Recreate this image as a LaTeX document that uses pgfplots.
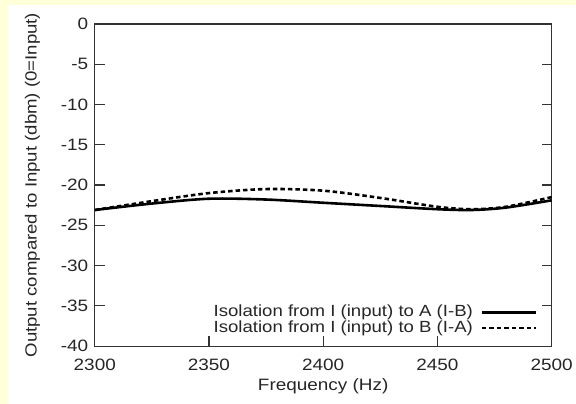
\documentclass[border=0pt]{standalone}
\usepackage{fontspec}
\setmainfont{Liberation Sans}[FakeStretch=1.15]
\usepackage{pgfplots}
\pgfplotsset{compat=1.18}
\definecolor{bgyellow}{RGB}{255,255,218}
\begin{document}
\begin{tikzpicture}
\fill[bgyellow] (-95pt,-58pt) rectangle (481pt,347pt);
\fill[white] (-87pt,-58pt) rectangle (481pt,342pt);
\begin{axis}[
  at={(0pt,0pt)}, anchor=south west,
  scale only axis, width=458pt, height=323pt,
  xmin=2300, xmax=2500, ymin=-40, ymax=0,
  xtick={2300,2350,2400,2450,2500},
  ytick={-40,-35,-30,-25,-20,-15,-10,-5,0},
  xtick pos=bottom, ytick pos=both,
  tick align=inside, major tick length=10pt,
  axis line style={line width=1.2pt, black!80},
  tick style={line width=1.2pt, black!80},
  /pgf/number format/assume math mode=true,
  /pgf/number format/set thousands separator={},
  xticklabel style={font=\fontsize{16.5}{19}\selectfont, yshift=-9pt, text=black!85},
  yticklabel style={font=\fontsize{16.5}{19}\selectfont, xshift=-3pt, text=black!85},
  xlabel={Frequency (Hz)},
  ylabel={Output compared to Input (dbm) (0=Input)},
  xlabel style={font=\fontsize{16.5}{19}\selectfont, yshift=-1pt, text=black!85},
  ylabel style={font=\fontsize{16.2}{19}\selectfont, yshift=14pt, text=black!85},
  legend style={at={(0.975,0.025)}, anchor=south east, draw=none, fill=none,
    font=\fontsize{16.2}{16}\selectfont, row sep=0pt, text=black!85,
    nodes={text height=11.5pt, text depth=3pt, inner ysep=0.5pt}},
  legend plot pos=right,
  legend cell align=left,
  legend image code/.code={\draw[#1] (7pt,0pt) -- (61pt,0pt); \path[draw=none,fill=none] (0pt,0pt) rectangle (0.1pt,0.1pt);},
]
\addplot[black, line width=2.6pt, smooth] coordinates {
(2300,-23.1) (2325,-22.3) (2350,-21.7) (2375,-21.8) (2400,-22.2)
(2425,-22.6) (2450,-23.0) (2465,-23.1) (2480,-22.8) (2500,-21.9)};
\addlegendentry{Isolation from I (input) to A (I-B)}
\addplot[black, line width=2.6pt, dash pattern=on 4.5pt off 3pt, smooth] coordinates {
(2300,-23.1) (2325,-22.0) (2350,-21.0) (2375,-20.5) (2400,-20.7)
(2425,-21.6) (2450,-22.7) (2465,-23.0) (2480,-22.7) (2500,-21.5)};
\addlegendentry{Isolation from I (input) to B (I-A)}
\end{axis}
\end{tikzpicture}
\end{document}
